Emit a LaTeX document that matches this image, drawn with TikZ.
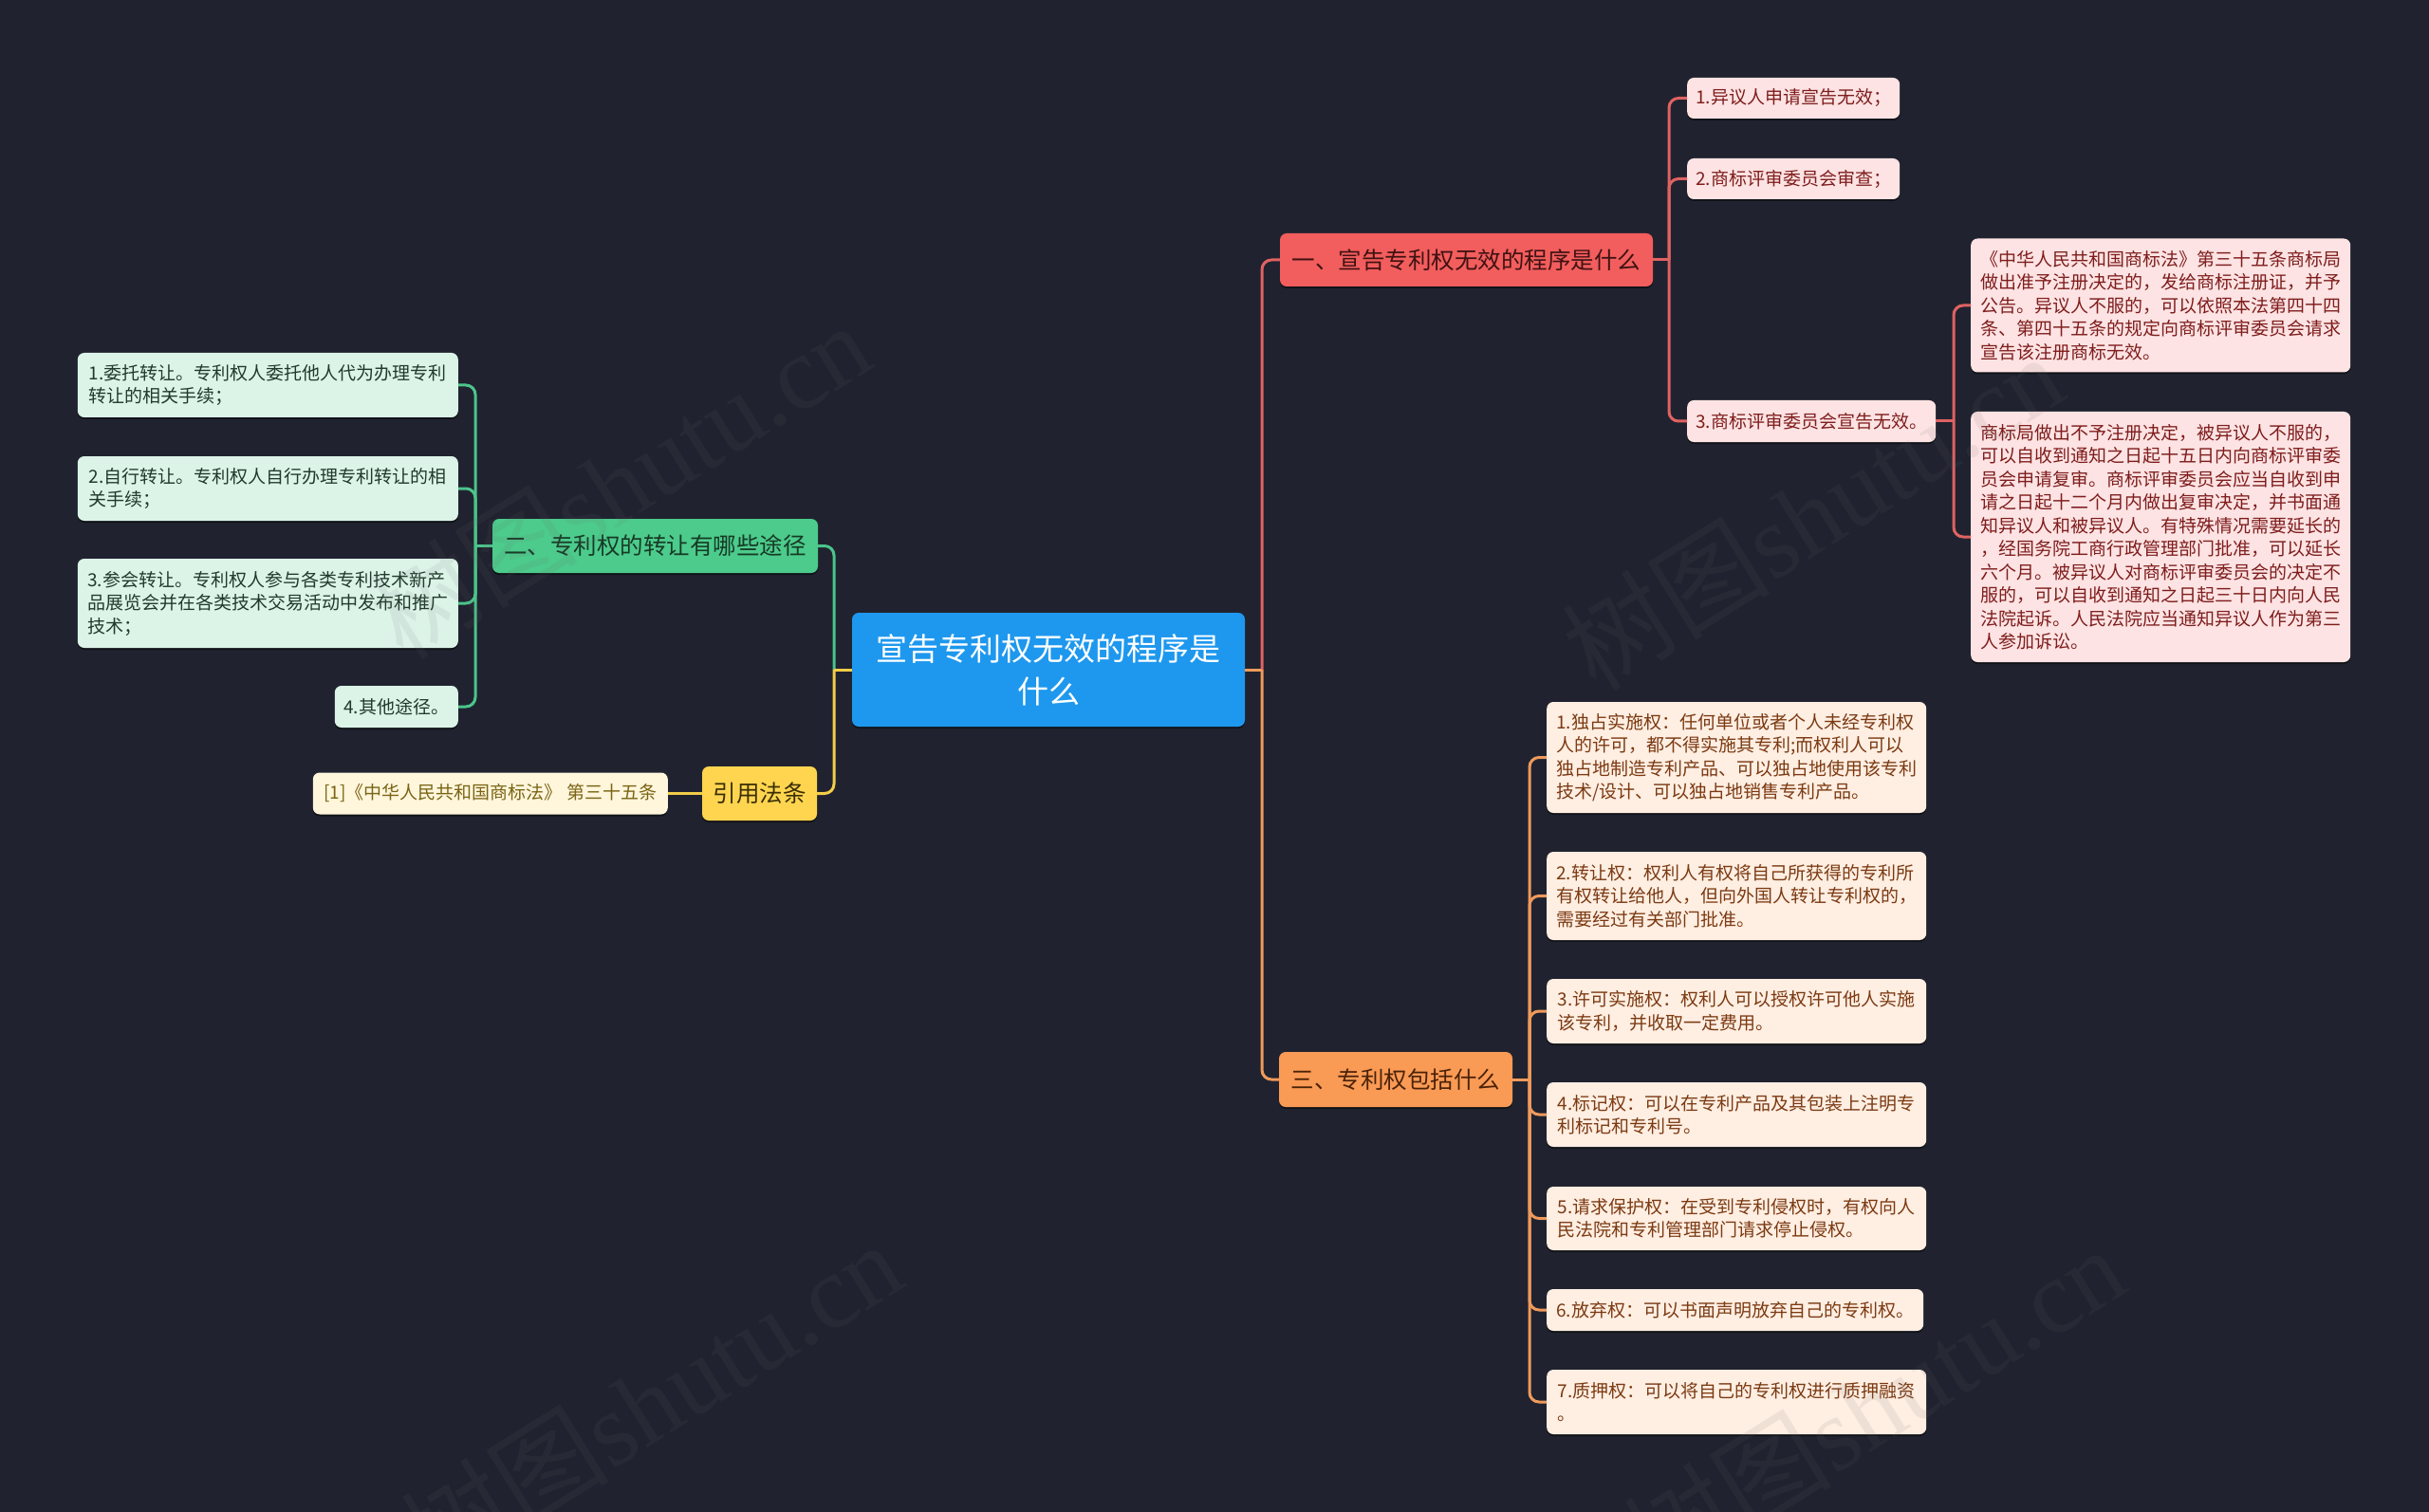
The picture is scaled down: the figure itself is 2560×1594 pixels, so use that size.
\documentclass[tikz,border=0pt]{standalone}
\usepackage{fontspec}
\setmainfont{Noto Sans CJK SC}
\newfontfamily\wmlatin{Liberation Serif}
\usetikzlibrary{shadows}
\definecolor{bgc}{HTML}{20232F}
\definecolor{cblue}{HTML}{1E98EE}
\definecolor{rB}{HTML}{F25D5D}\definecolor{rL}{HTML}{FDE3E3}\definecolor{rT}{HTML}{7F1D1D}\definecolor{rBT}{HTML}{3F1212}\definecolor{rLine}{HTML}{E06262}
\definecolor{gB}{HTML}{4CCB8C}\definecolor{gL}{HTML}{DCF4E8}\definecolor{gT}{HTML}{1F3A2B}\definecolor{gBT}{HTML}{173A26}\definecolor{gLine}{HTML}{4CC48B}
\definecolor{yB}{HTML}{FFD54F}\definecolor{yL}{HTML}{FFF6DC}\definecolor{yT}{HTML}{7A6414}\definecolor{yBT}{HTML}{3A2E05}\definecolor{yLine}{HTML}{F2CD48}
\definecolor{oB}{HTML}{F99A55}\definecolor{oL}{HTML}{FFEEE2}\definecolor{oT}{HTML}{7B3A12}\definecolor{oBT}{HTML}{4A2208}\definecolor{oLine}{HTML}{EF9A5C}
\definecolor{wmc}{HTML}{6A6A6A}
\begin{document}
\begin{tikzpicture}[x=1pt,y=-1pt,
  box/.style={rectangle, rounded corners=7pt, inner sep=0pt, align=left,
    drop shadow={shadow xshift=0pt, shadow yshift=-2pt, opacity=0.45, fill=black}},
  cen/.style={box, fill=cblue, text=white, align=center, font=\fontsize{33pt}{45pt}\selectfont},
  brn/.style={box, font=\fontsize{24.5pt}{30pt}\selectfont},
  lf/.style={box, font=\fontsize{19pt}{24.5pt}\selectfont},
  rbr/.style={brn, fill=rB, text=rBT}, rlf/.style={lf, fill=rL, text=rT},
  gbr/.style={brn, fill=gB, text=gBT}, glf/.style={lf, fill=gL, text=gT},
  ybr/.style={brn, fill=yB, text=yBT}, ylf/.style={lf, fill=yL, text=yT},
  obr/.style={brn, fill=oB, text=oBT}, olf/.style={lf, fill=oL, text=oT},
  conn/.style={line width=3pt, rounded corners=10pt},
  rc/.style={conn, draw=rLine}, gc/.style={conn, draw=gLine},
  yc/.style={conn, draw=yLine}, oc/.style={conn, draw=oLine},
  wm/.style={text=wmc, opacity=0.1, rotate=32, font=\fontsize{110pt}{120pt}\selectfont}
]
\fill[bgc] (0,0) rectangle (2560,1594);
\clip (0,0) rectangle (2560,1594);

% junction coordinates
\coordinate (jr) at (1330,706);
\coordinate (jl) at (879,706);
\coordinate (j1) at (1759,274);
\coordinate (j13) at (2059,444);
\coordinate (j2) at (501,575.5);
\coordinate (j4) at (1612,1138);

% center
\node[cen, minimum width=414pt, minimum height=120pt] (c) at (1105,706) {宣告专利权无效的程序是\\什么};

% branches
\node[rbr, minimum width=393pt, minimum height=56pt] (b1) at (1545.5,274) {一、宣告专利权无效的程序是什么};
\node[gbr, minimum width=343pt, minimum height=57pt] (b2) at (690.5,575.5) {二、专利权的转让有哪些途径};
\node[ybr, minimum width=121pt, minimum height=57pt] (b3) at (800.5,836.5) {引用法条};
\node[obr, minimum width=246pt, minimum height=58pt] (b4) at (1471,1138) {三、专利权包括什么};

% branch 1 leaves
\node[rlf, anchor=west, minimum width=224pt, minimum height=43pt] (l11) at (1778,103.5) {1.异议人申请宣告无效；};
\node[rlf, anchor=west, minimum width=224pt, minimum height=43pt] (l12) at (1778,188.5) {2.商标评审委员会审查；};
\node[rlf, anchor=west, minimum width=262pt, minimum height=44pt] (l13) at (1778,444) {3.商标评审委员会宣告无效。};
\node[rlf, anchor=west, minimum width=400pt, minimum height=141pt] (l131) at (2077,322) {《中华人民共和国商标法》第三十五条商标局\\做出准予注册决定的，发给商标注册证，并予\\公告。异议人不服的，可以依照本法第四十四\\条、第四十五条的规定向商标评审委员会请求\\宣告该注册商标无效。};
\node[rlf, anchor=west, minimum width=400pt, minimum height=264pt] (l132) at (2077,566) {商标局做出不予注册决定，被异议人不服的，\\可以自收到通知之日起十五日内向商标评审委\\员会申请复审。商标评审委员会应当自收到申\\请之日起十二个月内做出复审决定，并书面通\\知异议人和被异议人。有特殊情况需要延长的\\，经国务院工商行政管理部门批准，可以延长\\六个月。被异议人对商标评审委员会的决定不\\服的，可以自收到通知之日起三十日内向人民\\法院起诉。人民法院应当通知异议人作为第三\\人参加诉讼。};

% branch 2 leaves
\node[glf, anchor=east, minimum width=401pt, minimum height=68pt] (l21) at (483,406) {1.委托转让。专利权人委托他人代为办理专利\\转让的相关手续；};
\node[glf, anchor=east, minimum width=401pt, minimum height=68pt] (l22) at (483,515) {2.自行转让。专利权人自行办理专利转让的相\\关手续；};
\node[glf, anchor=east, minimum width=401pt, minimum height=94pt] (l23) at (483,636) {3.参会转让。专利权人参与各类专利技术新产\\品展览会并在各类技术交易活动中发布和推广\\技术；};
\node[glf, anchor=east, minimum width=130pt, minimum height=44pt] (l24) at (483,745) {4.其他途径。};

% branch 3 leaf
\node[ylf, anchor=east, minimum width=374pt, minimum height=44pt] (l31) at (704,836.5) {[1]《中华人民共和国商标法》 第三十五条};

% branch 4 leaves
\node[olf, anchor=west, minimum width=400pt, minimum height=117pt] (l41) at (1630,798.5) {1.独占实施权：任何单位或者个人未经专利权\\人的许可，都不得实施其专利;而权利人可以\\独占地制造专利产品、可以独占地使用该专利\\技术/设计、可以独占地销售专利产品。};
\node[olf, anchor=west, minimum width=400pt, minimum height=93pt] (l42) at (1630,944.5) {2.转让权：权利人有权将自己所获得的专利所\\有权转让给他人，但向外国人转让专利权的，\\需要经过有关部门批准。};
\node[olf, anchor=west, minimum width=400pt, minimum height=68pt] (l43) at (1630,1066) {3.许可实施权：权利人可以授权许可他人实施\\该专利，并收取一定费用。};
\node[olf, anchor=west, minimum width=400pt, minimum height=68pt] (l44) at (1630,1175) {4.标记权：可以在专利产品及其包装上注明专\\利标记和专利号。};
\node[olf, anchor=west, minimum width=400pt, minimum height=67pt] (l45) at (1630,1284.5) {5.请求保护权：在受到专利侵权时，有权向人\\民法院和专利管理部门请求停止侵权。};
\node[olf, anchor=west, minimum width=397pt, minimum height=44pt] (l46) at (1630,1381) {6.放弃权：可以书面声明放弃自己的专利权。};
\node[olf, anchor=west, minimum width=400pt, minimum height=68pt] (l47) at (1630,1478) {7.质押权：可以将自己的专利权进行质押融资\\。};

% connectors: center to branches
\draw[rc] (c.east) -- (jr);
\draw[rc] (jr) |- (b1.west);
\draw[oc] (jr) |- (b4.west);
\draw[oc] (c.east) -- (jr);
\draw[gc] (jl) |- (b2.east);
\draw[yc] (jl) |- (b3.east);
\draw[yc] (c.west) -- (jl);

% branch 1
\draw[rc] (b1.east) -- (j1);
\draw[rc] (j1) |- (l11.west);
\draw[rc] (j1) |- (l12.west);
\draw[rc] (j1) |- (l13.west);
\draw[rc] (l13.east) -- (j13);
\draw[rc] (j13) |- (l131.west);
\draw[rc] (j13) |- (l132.west);

% branch 2
\draw[gc] (b2.west) -- (j2);
\draw[gc] (j2) |- (l21.east);
\draw[gc] (j2) |- (l22.east);
\draw[gc] (j2) |- (l23.east);
\draw[gc] (j2) |- (l24.east);

% branch 3
\draw[yc] (b3.west) -- (l31.east);

% branch 4
\draw[oc] (b4.east) -- (j4);
\foreach \n in {l41,l42,l43,l44,l45,l46,l47}{\draw[oc] (j4) |- (\n.west);}

% watermarks
\node[wm] (wm1) at (653,506) {树图{\wmlatin shutu.cn}};
\node[wm] (wm2) at (1910,539) {树图{\wmlatin shutu.cn}};
\node[wm] (wm3) at (686,1475) {树图{\wmlatin shutu.cn}};
\node[wm] (wm4) at (1975,1480) {树图{\wmlatin shutu.cn}};
\end{tikzpicture}
\end{document}
